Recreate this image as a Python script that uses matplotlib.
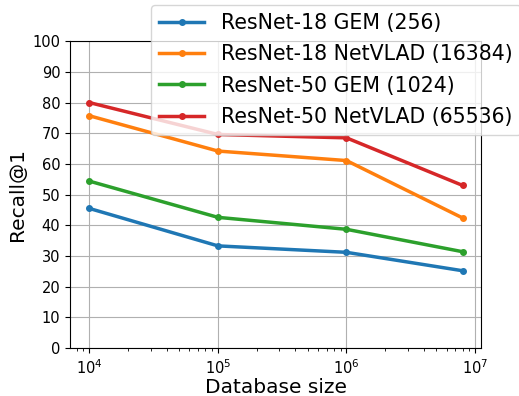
import matplotlib
matplotlib.use("Agg")
import matplotlib.pyplot as plt

db_sizes = [1e4, 1e5, 1e6, 8e6]
labels = ["ResNet-18 GEM (256)", "ResNet-18 NetVLAD (16384)",
          "ResNet-50 GEM (1024)", "ResNet-50 NetVLAD (65536)"]
r18_gem = [45.5, 33.3, 31.2, 25.2]
r18_netvlad = [75.7, 64.2, 61.1, 42.4]
r50_gem = [54.4, 42.6, 38.7, 31.4]
r50_netvlad = [80.0, 69.6, 68.5, 53.0]


def main():
    fig = plt.figure(figsize=(5.19, 3.96), dpi=100)
    ax = fig.add_axes([0.135, 0.121, 0.792, 0.775])
    for vals, lab in zip([r18_gem, r18_netvlad, r50_gem, r50_netvlad], labels):
        ax.plot(db_sizes, vals, "-o", linewidth=2.5, markersize=4, label=lab)
    ax.set_xscale("log")
    ax.set_xlim(10**3.85, 10**7.047)
    ax.set_ylim(0, 100)
    ax.set_yticks(range(0, 101, 10))
    ax.grid(True)
    ax.tick_params(labelsize=10.5)
    ax.set_xlabel("Database size", fontsize=14.5, labelpad=1)
    ax.set_ylabel("Recall@1", fontsize=14.5)
    fig.legend(loc="upper left", bbox_to_anchor=(0.291, 0.988), fontsize=14.8,
               handlelength=2.2, borderaxespad=0, labelspacing=0.55)
    fig.savefig("out.png", dpi=100)


if __name__ == "__main__":
    main()
